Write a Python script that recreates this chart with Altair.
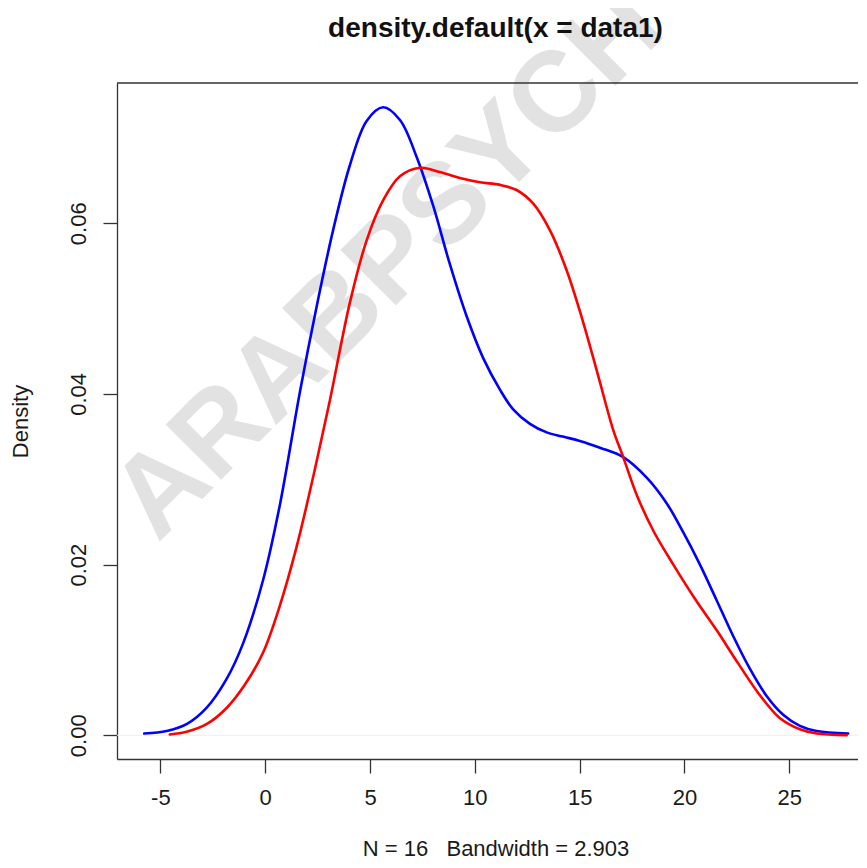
import altair as alt
import pandas as pd

# ---- data ----
blue_x = [-5.77, -4.70, -3.75, -2.80, -1.84, -1.05, -0.10, 0.70, 1.66, 2.45, 3.24, 4.04,
          4.84, 5.63, 6.43, 7.22, 8.02, 8.81, 9.61, 10.40, 11.20, 11.83, 12.63, 13.43,
          14.20, 15.01, 15.97, 17.08, 18.20, 19.15, 19.94, 20.74, 21.54, 22.33, 23.12,
          23.92, 24.71, 25.51, 26.31, 27.81]
blue_y = [0.0002, 0.0005, 0.0013, 0.0032, 0.0066, 0.0108, 0.0182, 0.0270, 0.0403, 0.0502,
          0.0592, 0.0668, 0.0720, 0.0736, 0.0721, 0.0678, 0.0620, 0.0552, 0.0491, 0.0442,
          0.0405, 0.0382, 0.0365, 0.0355, 0.0350, 0.0345, 0.0337, 0.0326, 0.0302, 0.0272,
          0.0238, 0.0200, 0.0158, 0.0116, 0.0078, 0.0046, 0.0024, 0.0011, 0.0005, 0.0002]

red_x = [-4.55, -3.75, -2.80, -1.84, -0.95, -0.10, 0.70, 1.50, 2.29, 3.09, 4.04, 4.84,
         5.63, 6.43, 7.38, 8.33, 9.29, 10.24, 11.20, 11.99, 12.79, 13.58, 14.38, 15.17,
         15.90, 16.60, 17.08, 17.72, 18.51, 19.47, 20.50, 21.54, 22.57, 23.60, 24.56,
         25.51, 26.31, 27.74]
red_y = [0.0001, 0.0004, 0.0013, 0.0032, 0.0060, 0.0097, 0.0152, 0.0221, 0.0303, 0.0393,
         0.0507, 0.0580, 0.0627, 0.0655, 0.0665, 0.0660, 0.0653, 0.0648, 0.0645, 0.0639,
         0.0623, 0.0592, 0.0545, 0.0484, 0.0420, 0.0358, 0.0326, 0.0282, 0.0240, 0.0200,
         0.0160, 0.0123, 0.0084, 0.0047, 0.0020, 0.0007, 0.0002, 0.0000]

x_ticks = [-5, 0, 5, 10, 15, 20, 25]
y_ticks = [0.00, 0.02, 0.04, 0.06]
x_domain = [-7.07, 28.28]
y_domain = [-0.00278, 0.07644]

title_text = "density.default(x = data1)"
x_title = "N = 16\u00a0\u00a0\u00a0Bandwidth = 2.903"
y_title = "Density"
watermark_text = ["ARABPSYCH"]
watermark_pos = [5.9, 0.0552]

# ---- layout ----
W, H = 741, 676
FONT = "Liberation Sans"
AXC = "#333333"
TXC = "#1a1a1a"

blue_df = pd.DataFrame({"x": blue_x, "y": blue_y})
red_df = pd.DataFrame({"x": red_x, "y": red_y})

x_scale = alt.Scale(domain=x_domain, nice=False, zero=False)
y_scale = alt.Scale(domain=y_domain, nice=False, zero=False)

x_axis = alt.Axis(
    values=x_ticks, labelExpr="datum.value + ''", grid=False,
    tickSize=14, tickColor=AXC, tickWidth=1.3, domainColor=AXC, domainWidth=1.3,
    labelFont=FONT, labelFontSize=22, labelColor=TXC, labelPadding=14,
    labelFlush=False, labelOverlap=False,
    title=x_title, titleFont=FONT, titleFontSize=22, titleFontWeight="normal",
    titleColor=TXC, titleX=378.5, titleY=96, titleAlign="center",
    titleBaseline="alphabetic",
)
y_axis = alt.Axis(
    values=y_ticks, format=".2f", grid=False,
    tickSize=14, tickColor=AXC, tickWidth=1.3, domainColor=AXC, domainWidth=1.3,
    labelFont=FONT, labelFontSize=22, labelColor=TXC, labelPadding=18,
    labelAngle=270, labelAlign="center", labelBaseline="alphabetic",
    labelFlush=False, labelOverlap=False,
    title=y_title, titleFont=FONT, titleFontSize=22, titleFontWeight="normal",
    titleColor=TXC, titleX=-90, titleY=H / 2, titleAngle=270, titleAlign="center",
    titleBaseline="alphabetic",
)

blue = alt.Chart(blue_df).mark_line(
    color="#0000ff", strokeWidth=2.6, interpolate="catmull-rom", strokeCap="round"
).encode(
    x=alt.X("x:Q", scale=x_scale, axis=x_axis),
    y=alt.Y("y:Q", scale=y_scale, axis=y_axis),
)

red = alt.Chart(red_df).mark_line(
    color="#ff0000", strokeWidth=2.6, interpolate="catmull-rom", strokeCap="round"
).encode(
    x=alt.X("x:Q", scale=x_scale),
    y=alt.Y("y:Q", scale=y_scale),
)

wm = alt.Chart(pd.DataFrame({"t": watermark_text})).mark_text(
    font=FONT, fontSize=114, fontWeight="bold", color="#e2e2e2", angle=315,
    align="center", baseline="middle",
).encode(
    x=alt.datum(watermark_pos[0], scale=x_scale),
    y=alt.datum(watermark_pos[1], scale=y_scale),
    text="t:N",
)

zero_line = alt.Chart(pd.DataFrame({"z": [0]})).mark_rule(
    color="#eeeeee", strokeWidth=1
).encode(y=alt.Y("z:Q", scale=y_scale))

top_rule = alt.Chart(pd.DataFrame({"z": [0]})).mark_rule(
    color=AXC, strokeWidth=1.3
).encode(x=alt.value(0), x2=alt.value(W), y=alt.value(0))

title = alt.Chart(pd.DataFrame({"t": [title_text]})).mark_text(
    font=FONT, fontSize=28, fontWeight="bold", color="#111111",
    align="center", baseline="alphabetic",
).encode(x=alt.value(378.5), y=alt.value(-46), text="t:N")

chart = alt.layer(wm, zero_line, blue, red, top_rule, title).properties(
    width=W, height=H,
    padding={"left": 109, "top": 75, "right": 0, "bottom": 100},
    autosize=alt.AutoSizeParams(type="none"),
    background="white",
).configure_view(stroke=None)

chart.save("out.html", embed_options={"renderer": "svg", "actions": False})
